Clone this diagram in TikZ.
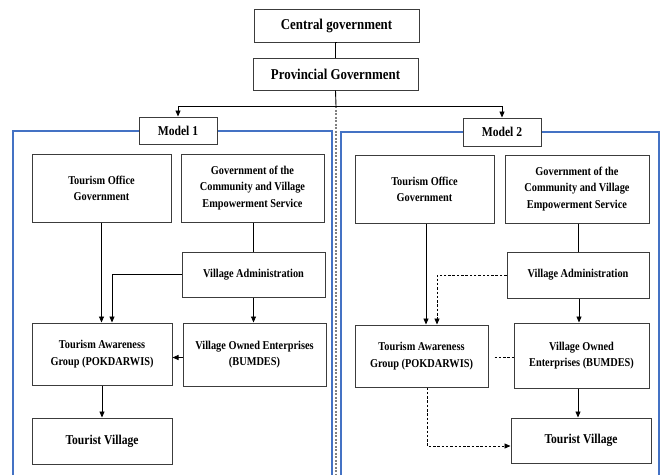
\documentclass[tikz,border=0pt]{standalone}
\usepackage{fontspec}
\setmainfont{Liberation Serif}[FakeStretch=0.86]
\usetikzlibrary{arrows.meta,calc}
\definecolor{frameblue}{RGB}{68,114,196}
\definecolor{boxline}{RGB}{60,60,60}
\begin{document}
\begin{tikzpicture}[x=1pt,y=-1pt,
  box/.style={draw=boxline,line width=1pt,fill=white,inner sep=2pt,align=center,
     font=\bfseries\fontsize{12}{16.3}\selectfont},
  topbox/.style={box,font=\bfseries\fontsize{15}{16}\selectfont},
  modelbox/.style={box,font=\bfseries\fontsize{13.5}{15}\selectfont},
  tvbox/.style={box,font=\bfseries\fontsize{13.5}{15}\selectfont},
  conn/.style={draw=black,line width=0.9pt},
  arr/.style={conn,-{Triangle[length=6pt,width=5pt]}},
  dconn/.style={conn,dash pattern=on 2.5pt off 1.8pt},
  darr/.style={dconn,-{Triangle[length=6pt,width=5pt]}},
  bluefr/.style={draw=frameblue,line width=1.1pt}
]
\useasboundingbox (0,0) rectangle (662,475);
% frames
\draw[bluefr] (13,475) -- (13,131) -- (332,131) -- (332,475);
\draw[bluefr] (341,475) -- (341,132) -- (659,132) -- (659,475);
% center dashed divider
\coordinate (junc) at (336,106);
\coordinate (divend) at (336,475);
\draw[draw=gray,line width=1.2pt,dash pattern=on 2pt off 1.5pt] (junc) -- (divend);

% top
\node[topbox,minimum width=165pt,minimum height=33pt] (cg) at (336.5,25.5) {Central government};
\node[topbox,minimum width=165pt,minimum height=32pt] (pg) at (335.5,74) {Provincial Government};
\node[modelbox,minimum width=78pt,minimum height=27pt] (m1) at (178,130.5) {Model 1};
\node[modelbox,minimum width=78pt,minimum height=28pt] (m2) at (502,132) {Model 2};

% model 1
\node[box,minimum width=139pt,minimum height=68pt] (to1) at (101.5,188) {Tourism Office\\Government};
\node[box,minimum width=143pt,minimum height=68pt] (gov1) at (252.5,188) {Government of the\\Community and Village\\Empowerment Service};
\node[box,minimum width=143pt,minimum height=45pt] (va1) at (253.5,274.5) {Village Administration};
\node[box,minimum width=140pt,minimum height=62pt] (pok1) at (102,354) {Tourism Awareness\\Group (POKDARWIS)};
\node[box,minimum width=143pt,minimum height=63pt] (bum1) at (254.5,354.5) {Village Owned Enterprises\\(BUMDES)};
\node[tvbox,minimum width=140pt,minimum height=46pt] (tv1) at (102,441) {Tourist Village};

% model 2
\node[box,minimum width=139pt,minimum height=68pt] (to2) at (424.5,189) {Tourism Office\\Government};
\node[box,minimum width=144pt,minimum height=68pt] (gov2) at (577,189) {Government of the\\Community and Village\\Empowerment Service};
\node[box,minimum width=142pt,minimum height=46pt] (va2) at (578,275) {Village Administration};
\node[box,minimum width=133pt,minimum height=62pt] (pok2) at (421.5,356) {Tourism Awareness\\Group (POKDARWIS)};
\node[box,minimum width=135pt,minimum height=65pt] (bum2) at (581.5,355.5) {Village Owned\\Enterprises (BUMDES)};
\node[tvbox,minimum width=140pt,minimum height=45pt] (tv2) at (581,440.5) {Tourist Village};

% top connectors
\draw[conn] (cg.south) -- (pg.south |- cg.south) -- (pg.north);
\draw[conn] (pg.south) -- (junc);
\draw[arr] (junc) -| (m1.north);
\draw[arr] (junc) -| (m2.north);

% model 1 connectors
\draw[arr] (to1.south) -- (to1.south |- pok1.north);
\draw[conn] (va1.north |- gov1.south) -- (va1.north);
\draw[arr] (va1.west) -| ([xshift=10pt]pok1.north);
\draw[arr] (va1.south) -- (va1.south |- bum1.north);
\draw[arr] ([yshift=-3pt]bum1.west) -- ([yshift=-3pt]bum1.west -| pok1.east);
\draw[arr] (pok1.south) -- (tv1.north);

% model 2 connectors
\draw[arr] ([xshift=1.5pt]to2.south) -- ([xshift=1.5pt]to2.south |- pok2.north);
\draw[conn] (va2.north |- gov2.south) -- (va2.north);
\draw[darr] (va2.west) -| ([xshift=15.5pt]pok2.north);
\draw[arr] ([xshift=1pt]va2.south) -- ([xshift=1pt]va2.south |- bum2.north);
\draw[dconn,shorten <=6pt] ([yshift=-1pt]pok2.east) -- ([yshift=-1pt]pok2.east -| bum2.west);
\draw[arr] ([xshift=-3.5pt]bum2.south) -- ([xshift=-3.5pt]bum2.south |- tv2.north);
\draw[darr] ([xshift=5.5pt]pok2.south) |- ([yshift=-5.5pt]tv2.west);
\end{tikzpicture}
\end{document}
